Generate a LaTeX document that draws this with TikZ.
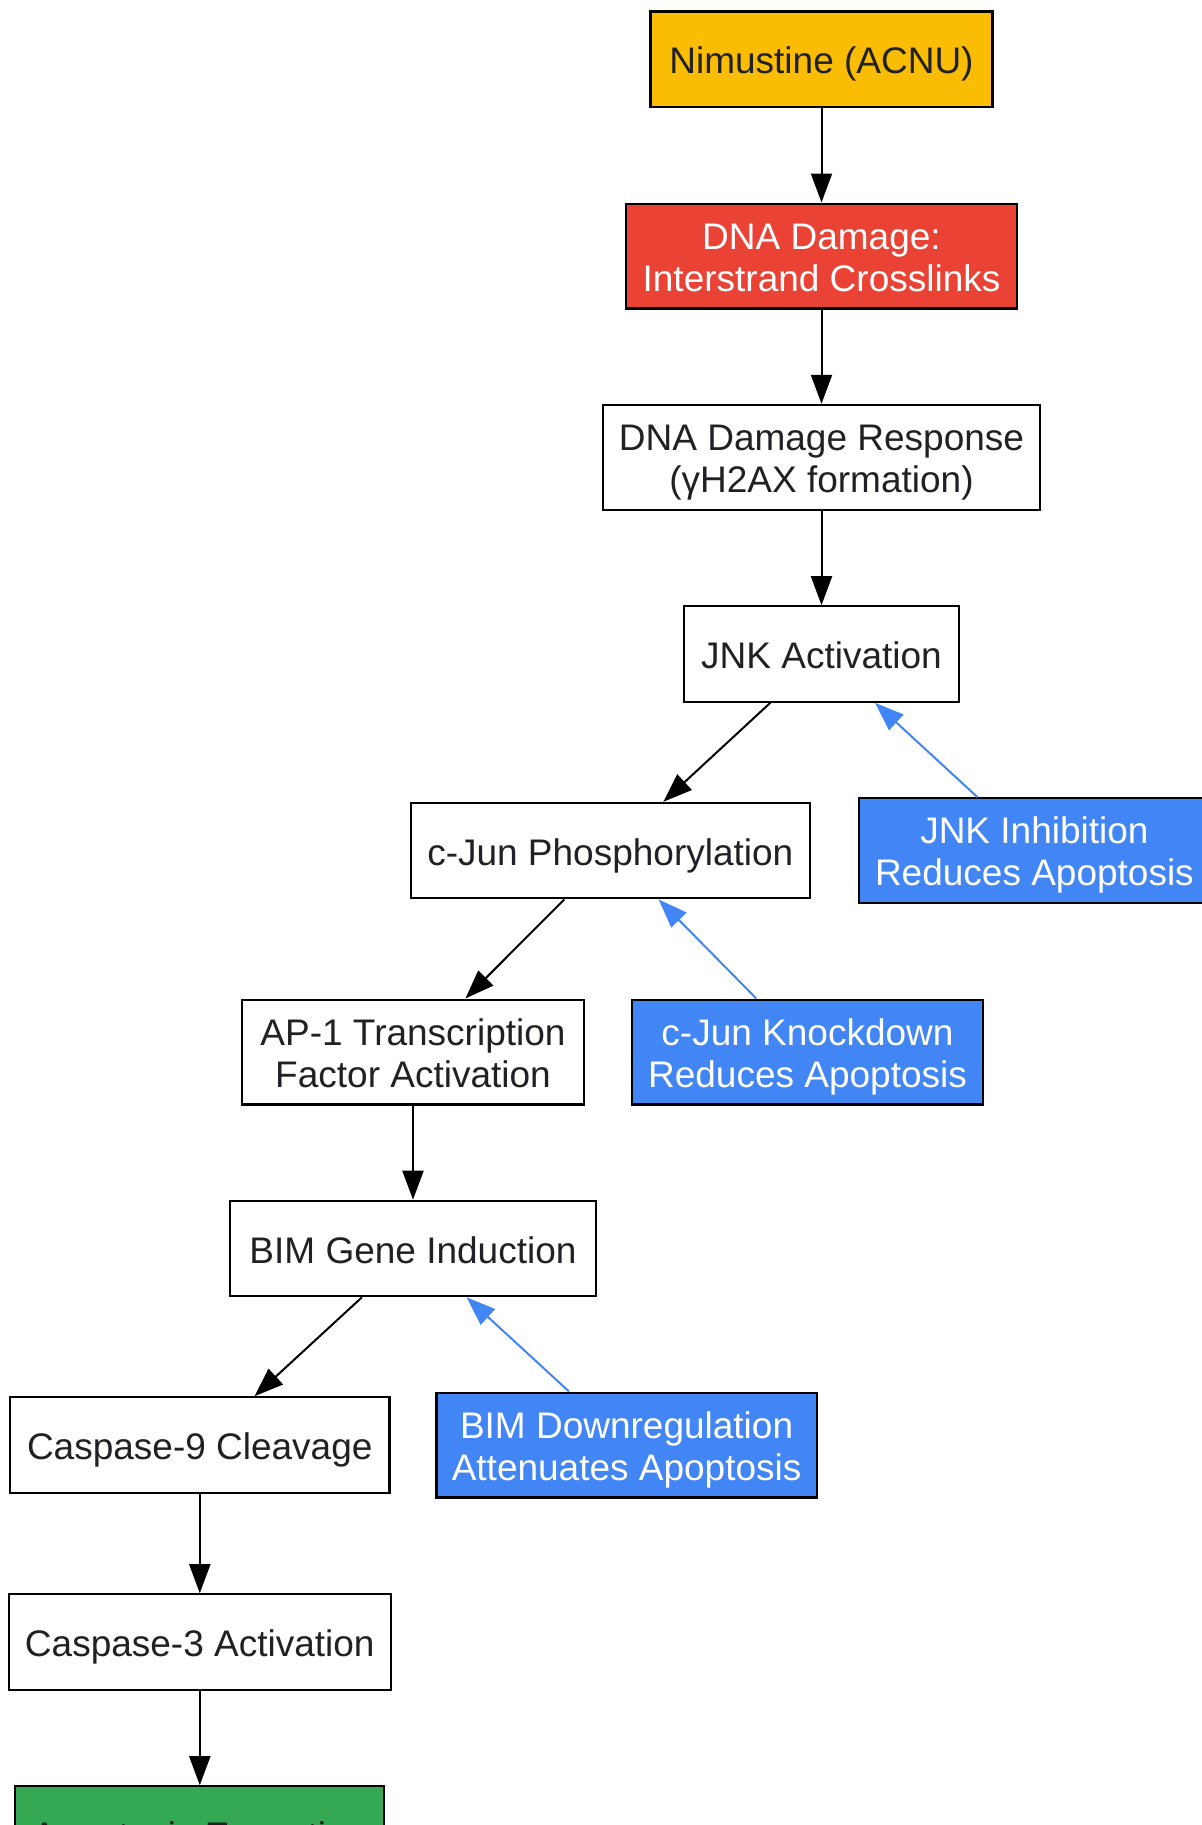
\documentclass[tikz,border=0pt]{standalone}
\usepackage{fontspec}
\setmainfont{Liberation Sans}
\usetikzlibrary{arrows.meta,calc}
\definecolor{txt}{HTML}{202124}
\definecolor{gyellow}{HTML}{FBBC04}
\definecolor{gred}{HTML}{EA4335}
\definecolor{gblue}{HTML}{4285F4}
\definecolor{ggreen}{HTML}{34A853}
\begin{document}
\begin{tikzpicture}[x=0.5pt,y=-0.5pt,
  box/.style={draw=black, line width=1.1pt, inner sep=0pt, align=center,
    font=\fontsize{18.5}{21}\selectfont, text=txt, fill=white, text depth=0pt},
  onebox/.style={box, minimum height=47.7pt, text height=14.7pt},
  twobox/.style={box, minimum height=52.4pt, text height=35pt},
  bluebox/.style={twobox, fill=gblue, text=white},
  flow/.style={draw=black, line width=1pt, -{Triangle[length=14.5pt,width=10.5pt]}},
  blueflow/.style={draw=gblue, line width=1pt, -{Triangle[length=14.5pt,width=10.5pt]}}
]
\clip (0,0) rectangle (1202,1825);
\useasboundingbox (0,0) rectangle (1202,1825);

\node[onebox, fill=gyellow, minimum width=171pt] (nim) at (821.5,59.3) {Nimustine (ACNU)};
\node[twobox, fill=gred, text=white, minimum width=195.5pt] (dna) at (821.5,256) {DNA Damage:\\Interstrand Crosslinks};
\node[twobox, minimum width=218.8pt] (ddr) at (821.5,457.3) {DNA Damage Response\\(γH2AX formation)};
\node[onebox, minimum width=137.3pt] (jnk) at (821.5,654) {JNK Activation};
\node[onebox, minimum width=199.6pt] (cjun) at (610.3,850.6) {c-Jun Phosphorylation};
\node[bluebox, minimum width=175.7pt] (jnki) at (1034.4,850.6) {JNK Inhibition\\Reduces Apoptosis};
\node[twobox, minimum width=171pt] (ap1) at (413,1052) {AP-1 Transcription\\Factor Activation};
\node[bluebox, minimum width=175.7pt] (cjunkd) at (807.5,1052) {c-Jun Knockdown\\Reduces Apoptosis};
\node[onebox, minimum width=182.7pt] (bim) at (413,1248.5) {BIM Gene Induction};
\node[bluebox, minimum width=190.2pt] (bimd) at (626.6,1445) {BIM Downregulation\\Attenuates Apoptosis};
\node[onebox, minimum width=189.7pt] (c9) at (199.8,1445) {Caspase-9 Cleavage};
\node[onebox, minimum width=190.9pt] (c3) at (199.8,1642) {Caspase-3 Activation};
\node[onebox, fill=ggreen, minimum width=184.5pt] (apop) at (199.8,1834) {Apoptosis Execution};

\draw[flow] (nim.south) -- (dna.north);
\draw[flow] (dna.south) -- (ddr.north);
\draw[flow] (ddr.south) -- (jnk.north);
\draw[flow] ($(jnk.south)+(-51.2,0)$) -- ($(cjun.north)+(53,0)$);
\draw[blueflow] ($(jnki.north)+(-57,0)$) -- ($(jnk.south)+(53.5,0)$);
\draw[flow] ($(cjun.south)+(-46,0)$) -- ($(ap1.north)+(52.4,0)$);
\draw[blueflow] ($(cjunkd.north)+(-51.2,0)$) -- ($(cjun.south)+(48.3,0)$);
\draw[flow] (ap1.south) -- (bim.north);
\draw[flow] ($(bim.south)+(-51.1,0)$) -- ($(c9.north)+(54.7,0)$);
\draw[blueflow] ($(bimd.north)+(-57.6,0)$) -- ($(bim.south)+(53.6,0)$);
\draw[flow] (c9.south) -- (c3.north);
\draw[flow] (c3.south) -- (apop.north);
\end{tikzpicture}
\end{document}
